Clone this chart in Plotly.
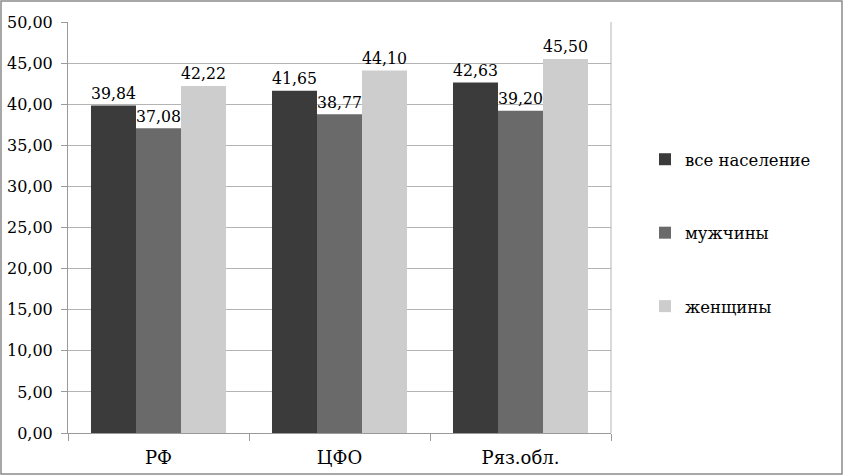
import plotly.graph_objects as go

categories = ["РФ", "ЦФО", "Ряз.обл."]
series_names = ["все население", "мужчины", "женщины"]
all_pop = [39.84, 41.65, 42.63]
men = [37.08, 38.77, 39.20]
women = [42.22, 44.10, 45.50]
colors = ["#3b3b3b", "#6a6a6a", "#cdcdcd"]

FONT = "DejaVu Serif"
W, H = 843, 476
L, R, T, B = 68, 232, 22, 43
pw, ph = W - L - R, H - T - B

fig = go.Figure()
for i, (name, vals) in enumerate(zip(series_names, [all_pop, men, women])):
    fig.add_trace(go.Bar(
        x=categories, y=vals, name=name, legendgroup=name,
        marker=dict(color=colors[i], line=dict(width=0)),
        texttemplate="%{y:.2f}", textposition="outside",
        textfont=dict(size=18, color="black", family=FONT),
        cliponaxis=False,
    ))

fig.update_layout(
    width=W, height=H,
    margin=dict(l=L, r=R, t=T, b=B, autoexpand=False),
    barmode="group", bargap=0.254, bargroupgap=0,
    separators=", ",
    plot_bgcolor="white", paper_bgcolor="white",
    font=dict(family=FONT, size=17, color="black"),
    showlegend=True,
    legend=dict(x=(645 - L) / pw, y=(H - B - 142) / ph, xanchor="left", yanchor="top",
                font=dict(size=16.5, family=FONT), tracegroupgap=49, traceorder="grouped",
                itemwidth=30),
    xaxis=dict(showline=True, linecolor="#9a9a9a", linewidth=1, ticks="outside",
               tickson="boundaries", ticklen=7, tickcolor="#9a9a9a",
               tickfont=dict(size=18, family=FONT), showgrid=False, automargin=False,
               ticklabelstandoff=8),
    yaxis=dict(range=[0, 50], dtick=5, tickformat=".2f", showline=True,
               linecolor="#9a9a9a", ticks="outside", ticklen=6, tickcolor="#9a9a9a",
               gridcolor="#b4b4b4", gridwidth=1, tickfont=dict(size=16, family=FONT),
               zeroline=False, automargin=False, ticklabelstandoff=5),
    shapes=[
        dict(type="rect", xref="paper", yref="paper",
             x0=(1 - L) / pw, x1=(W - 1 - L) / pw,
             y0=-(B - 2) / ph, y1=1 + (T - 1) / ph,
             line=dict(color="#8a8a8a", width=1.5), fillcolor="rgba(0,0,0,0)"),
        dict(type="line", xref="paper", yref="paper", x0=1, x1=1, y0=0, y1=1,
             line=dict(color="#b4b4b4", width=1)),
    ],
)

fig.write_html("out.html", config={"displayModeBar": False},
               post_script="document.body.style.margin='0';")
